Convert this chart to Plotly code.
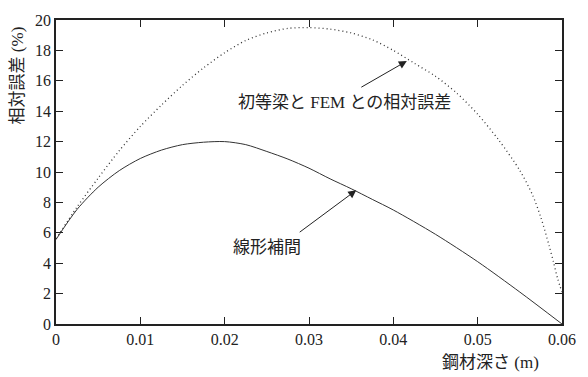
import plotly.graph_objects as go

# Data
depth_fem = [0, 0.0025, 0.005, 0.0075, 0.01, 0.0125, 0.015, 0.0175, 0.02, 0.0225, 0.025,
             0.0275, 0.03, 0.0325, 0.035, 0.0375, 0.04, 0.0425, 0.045, 0.0475, 0.05,
             0.0525, 0.055, 0.0565, 0.0575, 0.0585, 0.059, 0.0595, 0.06]
err_fem = [5.6, 7.7, 9.6, 11.4, 13.0, 14.4, 15.7, 16.85, 17.85, 18.65, 19.15,
           19.45, 19.5, 19.4, 19.15, 18.7, 18.0, 17.15, 16.3, 15.2, 13.8,
           12.1, 10.1, 8.5, 7.0, 5.1, 4.05, 2.95, 2.1]

depth_lin = [0, 0.0025, 0.005, 0.0075, 0.01, 0.0125, 0.015, 0.0175, 0.02, 0.0225, 0.025,
             0.0275, 0.03, 0.0325, 0.035, 0.0375, 0.04, 0.045, 0.05, 0.055, 0.06]
err_lin = [5.56, 7.54, 9.0, 10.09, 10.89, 11.44, 11.8, 11.96, 12.0, 11.8, 11.35,
           10.85, 10.25, 9.55, 8.9, 8.2, 7.5, 5.9, 4.1, 2.1, 0]

x_ticks = [0, 0.01, 0.02, 0.03, 0.04, 0.05, 0.06]
x_tick_labels = ["0", "0.01", "0.02", "0.03", "0.04", "0.05", "0.06"]
y_ticks = [0, 2, 4, 6, 8, 10, 12, 14, 16, 18, 20]

label_fem = "初等梁と FEM との相対誤差"
label_lin = "線形補間"
y_title = "相対誤差 (%)"
x_title = "鋼材深さ (m)"
arrow_fem_head = [0.0416, 17.3]
arrow_lin_head = [0.0356, 8.8]

NUM_FONT = "Liberation Serif"
MIX_FONT = "Liberation Serif, Noto Sans CJK JP"
TXT = "#222222"

fig = go.Figure()
fig.add_trace(go.Scatter(x=depth_fem, y=err_fem, mode="lines", line_shape="spline",
                         line=dict(color="#333333", width=1.3, dash="1px,3px", smoothing=0.8),
                         showlegend=False))
fig.add_trace(go.Scatter(x=depth_lin, y=err_lin, mode="lines", line_shape="spline",
                         line=dict(color="#333333", width=1, smoothing=0.8), showlegend=False))

axis_common = dict(showgrid=False, zeroline=False, showline=True, linecolor="#222222",
                   linewidth=1.5, mirror="ticks", ticks="inside", ticklen=7,
                   tickwidth=1.2, tickcolor="#222222",
                   tickfont=dict(family=NUM_FONT, size=16, color=TXT))

fig.update_xaxes(range=[0, 0.06], tickvals=x_ticks, ticktext=x_tick_labels, **axis_common)
fig.update_yaxes(range=[0, 20], tickvals=y_ticks, **axis_common)

W, H = 588, 377
L, R, T, B = 56, 20, 16, 53
pw, ph = W - L - R, H - T - B


def px(xp):
    return (xp - L) / pw


def py(yp):
    return (H - B - yp) / ph


fig.update_layout(
    width=W, height=H,
    margin=dict(l=L, r=R, t=T, b=B),
    paper_bgcolor="white", plot_bgcolor="white",
    font=dict(family=MIX_FONT, color=TXT),
    annotations=[
        dict(x=arrow_fem_head[0], y=arrow_fem_head[1], ax=-47, ay=27, text="", showarrow=True,
             arrowhead=2, arrowsize=1.6, arrowwidth=1, arrowcolor="#222222"),
        dict(x=arrow_lin_head[0], y=arrow_lin_head[1], ax=-58, ay=43, text="", showarrow=True,
             arrowhead=2, arrowsize=1.6, arrowwidth=1, arrowcolor="#222222"),
        dict(x=px(348), y=py(100), xref="paper", yref="paper", text=label_fem, showarrow=False,
             xanchor="center", yanchor="middle", font=dict(family=MIX_FONT, size=17, color=TXT)),
        dict(x=px(269), y=py(246), xref="paper", yref="paper", text=label_lin, showarrow=False,
             xanchor="center", yanchor="middle", font=dict(family=MIX_FONT, size=17, color=TXT)),
        dict(x=px(18), y=py(20), xref="paper", yref="paper", text=y_title, showarrow=False,
             textangle=-90, xanchor="center", yanchor="top",
             font=dict(family=MIX_FONT, size=17, color=TXT)),
        dict(x=px(547), y=py(363), xref="paper", yref="paper", text=x_title, showarrow=False,
             xanchor="right", yanchor="middle", font=dict(family=MIX_FONT, size=17, color=TXT)),
    ],
)

fig.write_html("out.html")
